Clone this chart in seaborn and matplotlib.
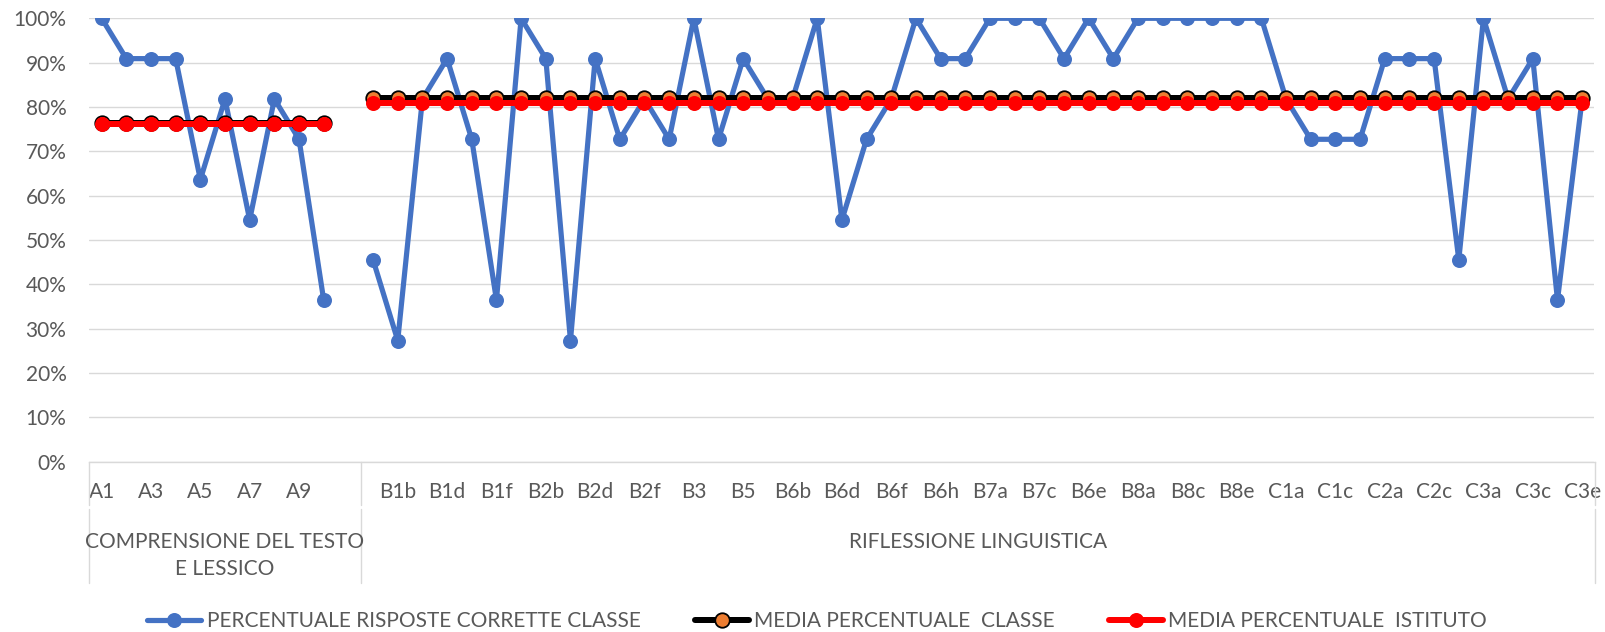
import numpy as np
import pandas as pd
import matplotlib
matplotlib.use("Agg")
import matplotlib.pyplot as plt
from matplotlib.lines import Line2D
import seaborn as sns

# ---------------- data ----------------
categories = ["A1", "A2", "A3", "A4", "A5", "A6", "A7", "A8", "A9", "A10", "",
              "B1a", "B1b", "B1c", "B1d", "B1e", "B1f", "B2a", "B2b", "B2c", "B2d",
              "B2e", "B2f", "B2g", "B3", "B4", "B5", "B6a", "B6b", "B6c", "B6d",
              "B6e", "B6f", "B6g", "B6h", "B6i", "B7a", "B7b", "B7c", "B7d", "B6e",
              "B7e", "B8a", "B8b", "B8c", "B8d", "B8e", "B8f", "C1a", "C1b", "C1c",
              "C1d", "C2a", "C2b", "C2c", "C2d", "C3a", "C3b", "C3c", "C3d", "C3e"]
sections = ["COMPRENSIONE DEL TESTO\nE LESSICO", "RIFLESSIONE LINGUISTICA"]
section_sizes = [11, 50]

classe_A = [100, 90.9, 90.9, 90.9, 63.6, 81.8, 54.5, 81.8, 72.7, 36.4, None]
classe_B = [45.5, 27.3, 81.8, 90.9, 72.7, 36.4, 100, 90.9, 27.3, 90.9,
            72.7, 81.8, 72.7, 100, 72.7, 90.9, 81.8, 81.8, 100, 54.5,
            72.7, 81.8, 100, 90.9, 90.9, 100, 100, 100, 90.9, 100,
            90.9, 100, 100, 100, 100, 100, 100, 81.8, 72.7, 72.7,
            72.7, 90.9, 90.9, 90.9, 45.5, 100, 81.8, 90.9, 36.4, 81.8]
media_classe = [76.4, 82.0]
media_istituto = [76.2, 80.8]

series_names = ["PERCENTUALE RISPOSTE CORRETTE CLASSE",
                "MEDIA PERCENTUALE  CLASSE",
                "MEDIA PERCENTUALE  ISTITUTO"]

# ---------------- build tables ----------------
rows = []
pos = 0
for s_i, (vals, size) in enumerate(zip([classe_A, classe_B], section_sizes)):
    for k in range(size):
        v = vals[k]
        if v is not None:
            rows.append(dict(pos=pos, section=s_i, classe=v,
                             mclasse=media_classe[s_i], mist=media_istituto[s_i]))
        pos += 1
df = pd.DataFrame(rows)
n_cat = len(categories)

# ---------------- style ----------------
sns.set_theme(style="white")
plt.rcParams['font.family'] = ['Lato', 'DejaVu Sans']
TXT = "#595959"
GRID = "#D9D9D9"
BLUE = "#4472C4"
ORANGE = "#ED7D31"
RED = "#FF0000"

W, H = 1606, 632
fig = plt.figure(figsize=(W / 100, H / 100), dpi=100)
left, right, top, bottom = 89.3, 1594.5, 18.3, 461.5
ax = fig.add_axes([left / W, 1 - bottom / H, (right - left) / W, (bottom - top) / H])

px = 72 / 100
blue_kw = dict(color=BLUE, lw=5.2 * px, marker="o", markersize=15 * px,
               markeredgewidth=0)
black_kw = dict(color="black", lw=6 * px, marker="o", markersize=14.5 * px,
                markerfacecolor=ORANGE, markeredgecolor="black",
                markeredgewidth=1.8 * px)
red_kw = dict(color=RED, lw=6 * px, marker="o", markersize=15 * px,
              markeredgewidth=0)

sns.lineplot(data=df, x="pos", y="classe", units="section", estimator=None,
             sort=False, ax=ax, legend=False, zorder=3, **blue_kw)
sns.lineplot(data=df, x="pos", y="mclasse", units="section", estimator=None,
             sort=False, ax=ax, legend=False, zorder=4, **black_kw)
sns.lineplot(data=df, x="pos", y="mist", units="section", estimator=None,
             sort=False, ax=ax, legend=False, zorder=5, **red_kw)

ax.set_xlim(-0.5, n_cat - 0.5)
ax.set_ylim(0, 100)
ax.set_yticks(np.arange(0, 101, 10))
ax.set_yticklabels([f"{v}%" for v in range(0, 101, 10)])
ticks = list(range(0, n_cat, 2))
ax.set_xticks(ticks)
ax.set_xticklabels([categories[i] for i in ticks])
ax.tick_params(axis="both", length=0, labelsize=15, colors=TXT)
ax.tick_params(axis="y", pad=16.5)
ax.tick_params(axis="x", pad=14.5)
ax.set_xlabel("")
ax.set_ylabel("")
ax.yaxis.grid(True, color=GRID, lw=1.4 * px)
ax.xaxis.grid(False)
for sp in ["left", "right", "top"]:
    ax.spines[sp].set_visible(False)
ax.spines["bottom"].set_color(GRID)
ax.spines["bottom"].set_linewidth(1.4 * px)
ax.set_axisbelow(True)

# group brackets under the axis
trans = matplotlib.transforms.blended_transform_factory(ax.transData, ax.transAxes)
ph = bottom - top
def yfrac(py):
    return (bottom - py) / ph
edges = [-0.5]
acc = -0.5
for s in section_sizes:
    acc += s
    edges.append(acc)
for e in edges:
    for y0, y1 in [(bottom, 505), (509, 583)]:
        ax.add_line(Line2D([e, e], [yfrac(y0), yfrac(y1)], transform=trans,
                           color=GRID, lw=1.4 * px, clip_on=False))
for s_i, name in enumerate(sections):
    cx = (edges[s_i] + edges[s_i + 1]) / 2
    ax.text(cx, yfrac(532), name, transform=trans, ha="center", va="top",
            fontsize=15, color=TXT, linespacing=1.42)

# legend
handles = [Line2D([], [], **blue_kw), Line2D([], [], **black_kw), Line2D([], [], **red_kw)]
leg = fig.legend(handles, series_names, loc="center", bbox_to_anchor=(817 / W, 1 - 621 / H),
                 ncol=3, frameon=False, fontsize=15, handlelength=2.6,
                 handletextpad=0.25, columnspacing=2.6, labelcolor=TXT)

fig.savefig("out.png", dpi=100, facecolor="white")
